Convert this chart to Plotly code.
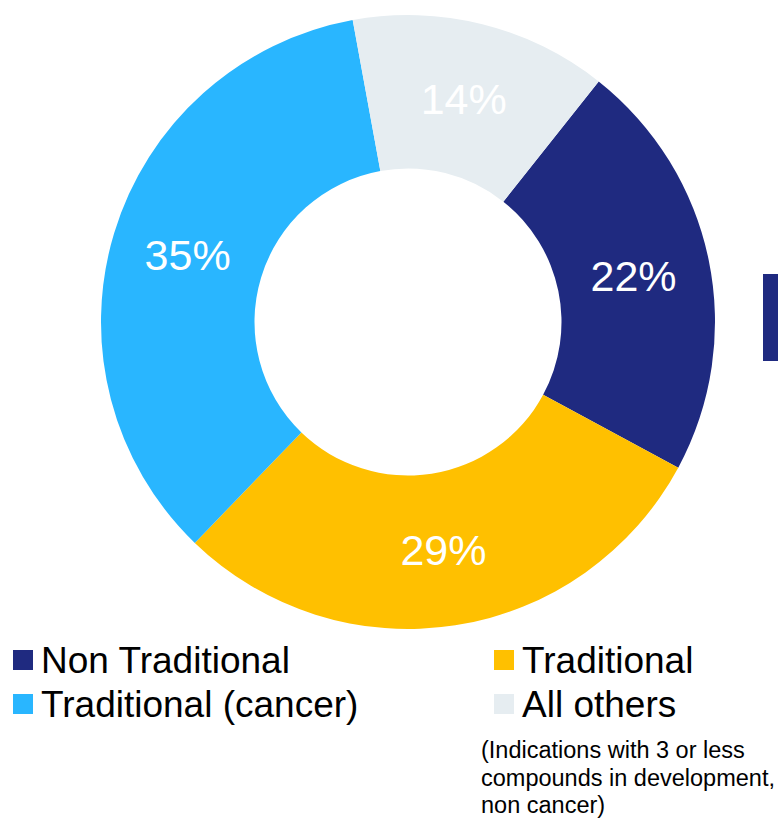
import plotly.graph_objects as go

# ---- data ----
labels = ["Non Traditional", "Traditional", "Traditional (cancer)", "All others"]
values = [22.2, 29.35, 34.9, 13.55]
colors = ["#1F2A80", "#FFC000", "#29B6FF", "#E6EDF1"]
footnote_lines = ["(Indications with 3 or less", "compounds in development,", "non cancer)"]

W, H = 778, 818
FONT = "Arial, Liberation Sans, sans-serif"

def px(x):
    return x / W

def py(y):
    return 1 - y / H

fig = go.Figure()
fig.add_trace(go.Pie(
    labels=labels,
    values=values,
    sort=False,
    direction="clockwise",
    rotation=38.4,
    hole=0.5,
    marker=dict(colors=colors, line=dict(width=0)),
    texttemplate="%{percent:.0%}",
    textposition="inside",
    insidetextorientation="horizontal",
    textfont=dict(family=FONT, size=43, color="white"),
    domain=dict(x=[px(101), px(715)], y=[py(629), py(15)]),
    showlegend=False,
    hoverinfo="label+percent",
))

shapes = []
annotations = []

# manual legend (two columns, row-major order)
legend_slots = [(13, 660), (494, 660), (13, 704), (494, 704)]
for (lx, ly), lab, col in zip(legend_slots, labels, colors):
    shapes.append(dict(type="rect", xref="paper", yref="paper",
                       x0=px(lx), x1=px(lx + 20), y0=py(ly + 10), y1=py(ly - 10),
                       fillcolor=col, line=dict(width=0)))
    annotations.append(dict(text=lab, xref="paper", yref="paper",
                            x=px(lx + 26), y=py(ly), xanchor="left", yanchor="middle",
                            showarrow=False, font=dict(family=FONT, size=37, color="black")))

# footnote
for i, line in enumerate(footnote_lines):
    annotations.append(dict(text=line, xref="paper", yref="paper",
                            x=px(479), y=py(750 + 27.5 * i), xanchor="left", yanchor="middle",
                            showarrow=False, font=dict(family=FONT, size=23.5, color="black")))

# cropped dark block at right edge
shapes.append(dict(type="rect", xref="paper", yref="paper",
                   x0=px(763), x1=px(790), y0=py(361), y1=py(274),
                   fillcolor="#1F2A80", line=dict(width=0)))

fig.update_layout(
    width=W, height=H,
    margin=dict(l=0, r=0, t=0, b=0),
    paper_bgcolor="white",
    plot_bgcolor="white",
    shapes=shapes,
    annotations=annotations,
    font=dict(family=FONT),
)

fig.write_html("out.html")
